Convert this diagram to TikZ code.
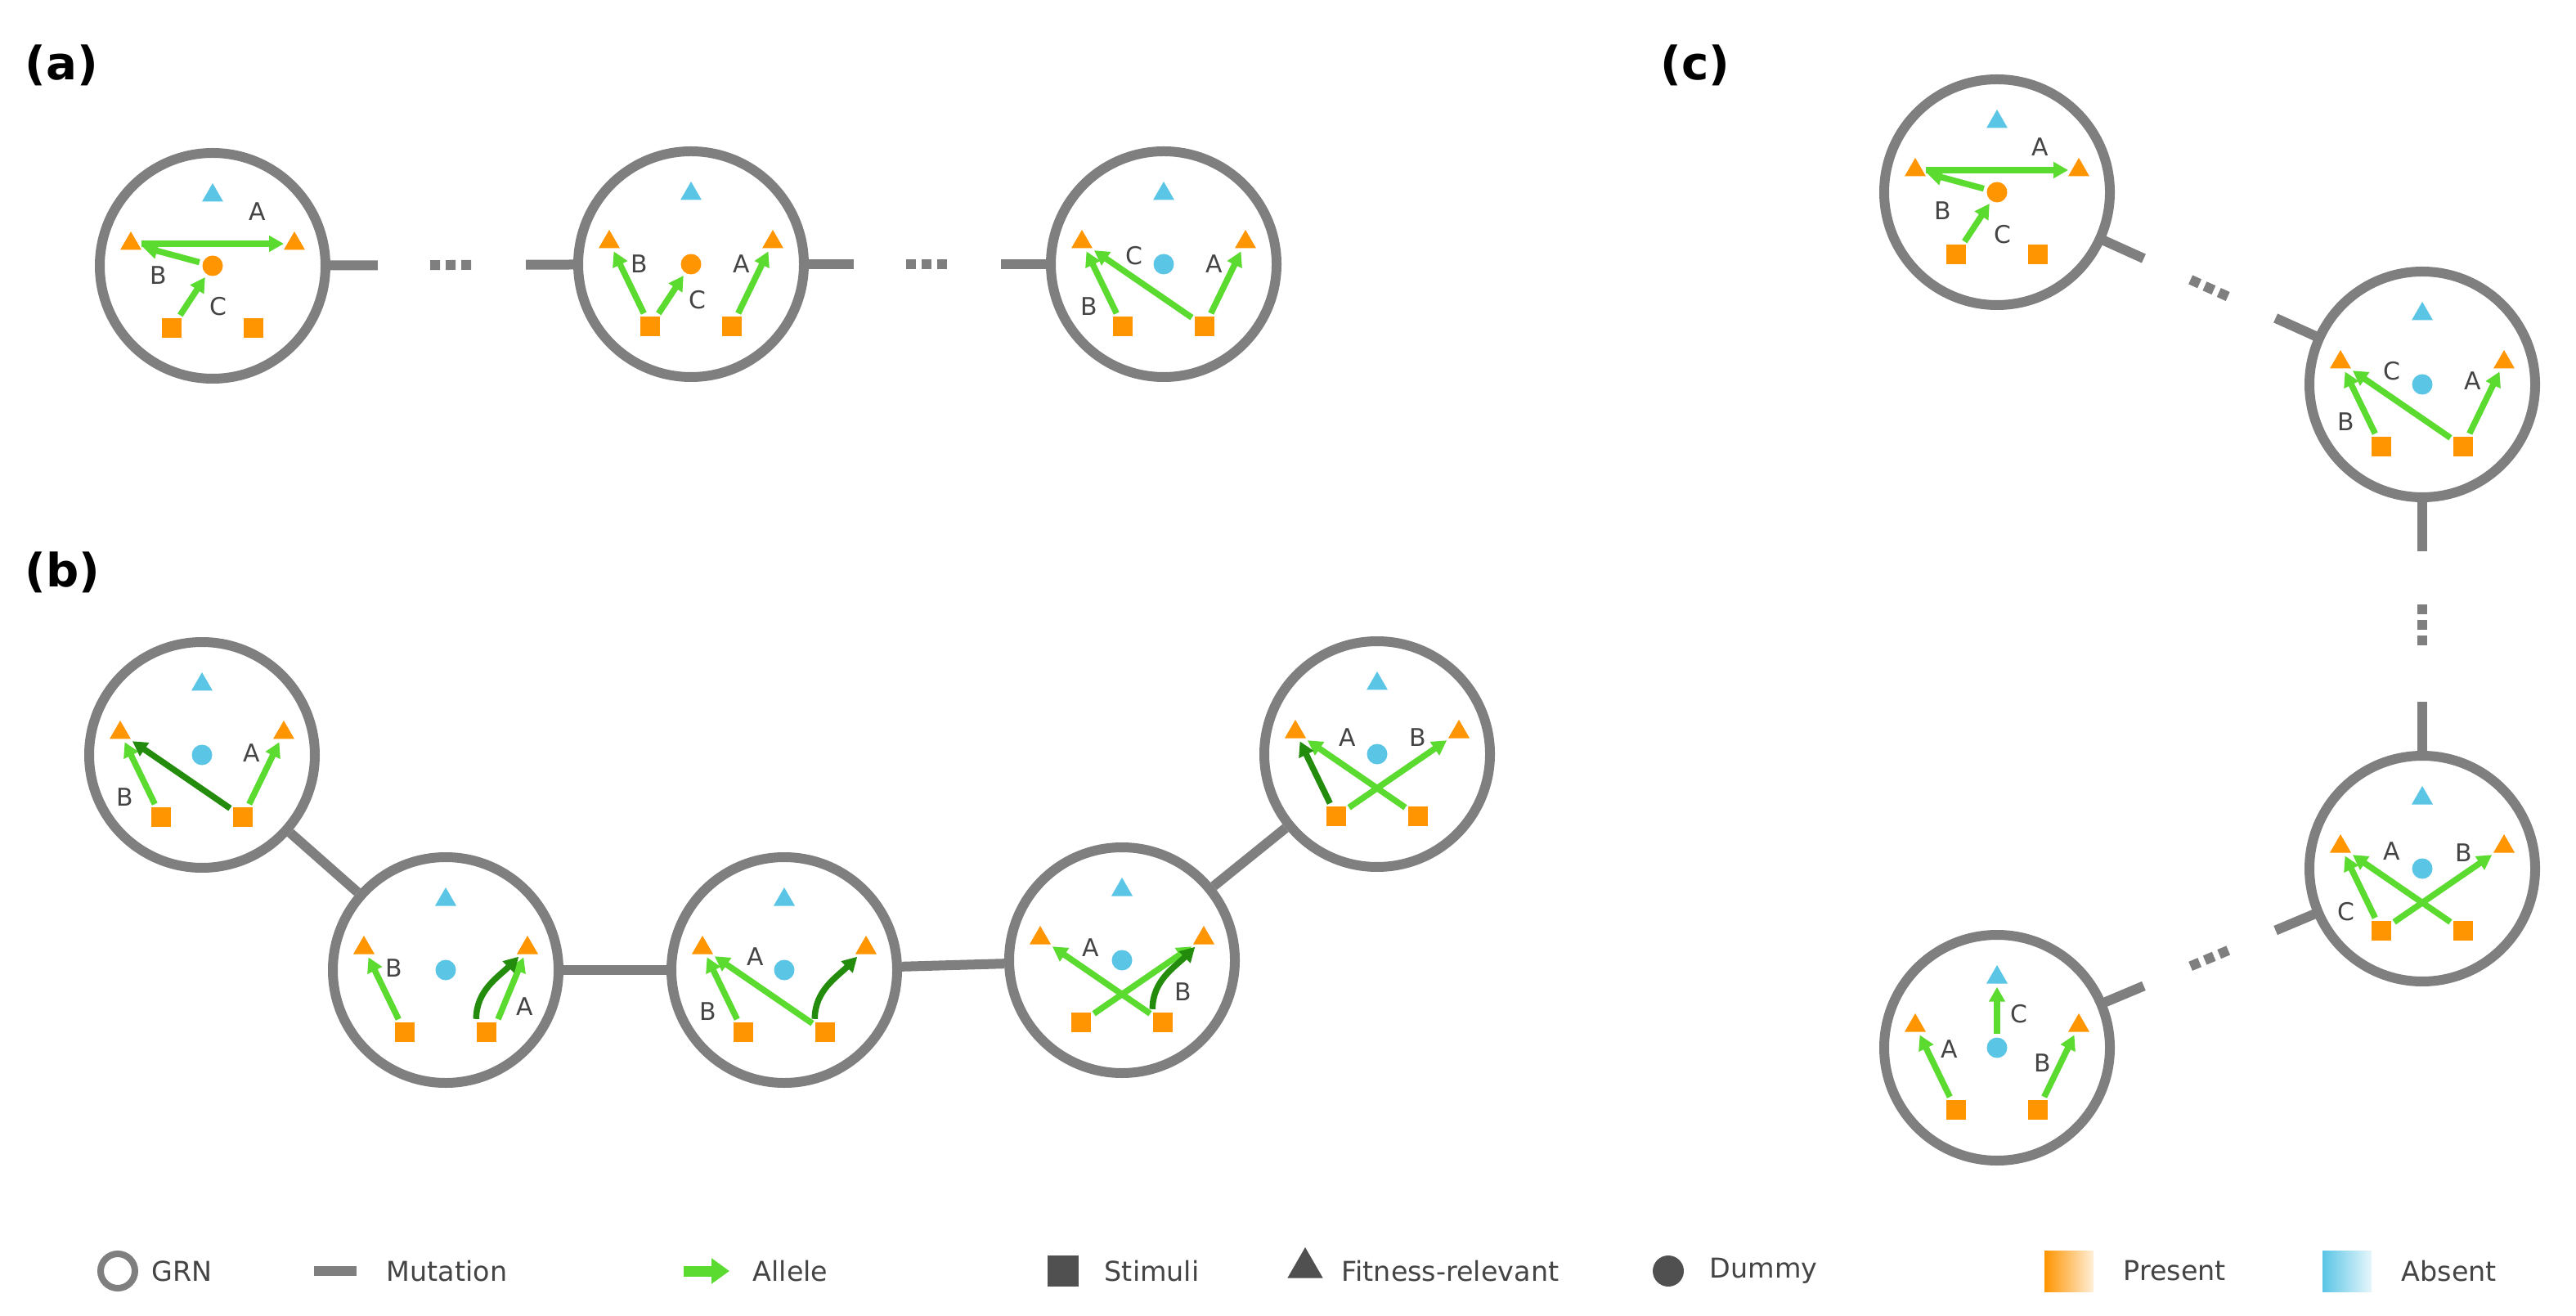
\documentclass[tikz,border=0pt]{standalone}
\usepackage{fontspec}
\setmainfont{DejaVu Sans}
\usetikzlibrary{positioning,calc,arrows.meta,shapes.geometric,backgrounds}

\definecolor{present}{HTML}{FF9500}
\definecolor{absent}{HTML}{5BC5E6}
\definecolor{allele}{HTML}{5BDA30}
\definecolor{alleledark}{HTML}{238C0C}
\definecolor{ringgray}{HTML}{7F7F7F}
\definecolor{labelgray}{HTML}{444444}
\definecolor{keygray}{HTML}{505050}

\tikzset{
	grn/.style={circle, draw=ringgray, line width=0.12cm, fill=white, minimum size=2.76cm, inner sep=0},
	fitrel/.style={regular polygon, regular polygon sides=3, minimum size=0.3cm, inner sep=0},
	stim/.style={rectangle, minimum size=0.24cm, inner sep=0},
	dummy/.style={circle, minimum size=0.25cm, inner sep=0},
	allele/.style={draw=allele, line width=0.075cm, -{Triangle[length=0.18cm,width=0.19cm]}, shorten <=1pt, shorten >=1pt},
	newallele/.style={allele, draw=alleledark},
	lbl/.style={text=labelgray, font=\fontsize{8.5}{9}\selectfont, inner sep=0},
	key/.style={text=labelgray, font=\fontsize{9.5}{10}\selectfont, anchor=west, inner sep=0},
	mut/.style={draw=ringgray, line width=0.12cm},
	panel/.style={font=\fontsize{16}{18}\selectfont\bfseries, anchor=west, inner sep=0},
}

% one network: ring, three fitness nodes, dummy, two stimuli
\newcommand\grn[3]{%
	\node[grn] (#1) at #2 {};
	\node[fitrel, fill=absent] (#1-t) at ($(#1)+(0,0.86)$) {};
	\node[fitrel, fill=present] (#1-l) at ($(#1)+(-1,0.27)$) {};
	\node[fitrel, fill=present] (#1-r) at ($(#1)+(1,0.27)$) {};
	\node[dummy, fill=#3] (#1-d) at (#1) {};
	\node[stim, fill=present] (#1-s1) at ($(#1)+(-0.5,-0.76)$) {};
	\node[stim, fill=present] (#1-s2) at ($(#1)+(0.5,-0.76)$) {};
}
% mutation link with skipped steps
\newcommand\farlink[2]{%
	\draw[mut] ($(#1)!0.24!(#2)$) -- ($(#1)!0.345!(#2)$);
	\draw[mut, dash pattern=on 0.12cm off 0.07cm] ($(#1)!0.455!(#2)$) -- ($(#1)!0.545!(#2)$);
	\draw[mut] ($(#1)!0.655!(#2)$) -- ($(#1)!0.76!(#2)$);
}

\begin{document}
\begin{tikzpicture}
\useasboundingbox (0,0) rectangle (31.5,-16.09);

\node[panel] (pa) at (0.3,-0.8) {(a)};
\node[panel] (pb) at (0.3,-7.0) {(b)};
\node[panel] (pc) at (20.3,-0.8) {(c)};

% (a)
\grn{a1}{(2.6,-3.25)}{present}
\draw[allele] (a1-l) -- (a1-r);
\draw[allele] (a1-d) -- (a1-l);
\draw[allele] (a1-s1) -- (a1-d);
\node[lbl] (a1-A) at ($(a1)+(0.55,0.66)$) {A};
\node[lbl] (a1-B) at ($(a1)+(-0.66,-0.12)$) {B};
\node[lbl] (a1-C) at ($(a1)+(0.07,-0.5)$) {C};

\grn{a2}{(8.45,-3.23)}{present}
\draw[allele] (a2-s1) -- (a2-l);
\draw[allele] (a2-s1) -- (a2-d);
\draw[allele] (a2-s2) -- (a2-r);
\node[lbl] (a2-A) at ($(a2)+(0.62,0)$) {A};
\node[lbl] (a2-B) at ($(a2)+(-0.63,0)$) {B};
\node[lbl] (a2-C) at ($(a2)+(0.08,-0.44)$) {C};

\grn{a3}{(14.23,-3.23)}{absent}
\draw[allele] (a3-s1) -- (a3-l);
\draw[allele] (a3-s2) -- (a3-l);
\draw[allele] (a3-s2) -- (a3-r);
\node[lbl] (a3-A) at ($(a3)+(0.62,0)$) {A};
\node[lbl] (a3-B) at ($(a3)+(-0.91,-0.52)$) {B};
\node[lbl] (a3-C) at ($(a3)+(-0.36,0.1)$) {C};

% (b)
\grn{b1}{(2.47,-9.23)}{absent}
\draw[allele] (b1-s1) -- (b1-l);
\draw[newallele] (b1-s2) -- (b1-l);
\draw[allele] (b1-s2) -- (b1-r);
\node[lbl] (b1-A) at ($(b1)+(0.61,0.02)$) {A};
\node[lbl] (b1-B) at ($(b1)+(-0.94,-0.52)$) {B};

\grn{b2}{(5.45,-11.86)}{absent}
\draw[allele] (b2-s1) -- (b2-l);
\draw[allele] (b2-s2.north east) -- (b2-r);
\draw[newallele] (b2-s2.north west) to[out=90,in=225] (b2-r);
\node[lbl] (b2-A) at ($(b2)+(0.97,-0.45)$) {A};
\node[lbl] (b2-B) at ($(b2)+(-0.63,0.02)$) {B};

\grn{b3}{(9.59,-11.86)}{absent}
\draw[allele] (b3-s1) -- (b3-l);
\draw[allele] (b3-s2) -- (b3-l);
\draw[newallele] (b3-s2.north west) to[out=90,in=225] (b3-r);
\node[lbl] (b3-A) at ($(b3)+(-0.35,0.16)$) {A};
\node[lbl] (b3-B) at ($(b3)+(-0.93,-0.51)$) {B};

\grn{b4}{(13.72,-11.74)}{absent}
\draw[allele] (b4-s2) -- (b4-l);
\draw[allele] (b4-s1) -- (b4-r);
\draw[newallele] (b4-s2.north west) to[out=90,in=225] (b4-r);
\node[lbl] (b4-A) at ($(b4)+(-0.38,0.15)$) {A};
\node[lbl] (b4-B) at ($(b4)+(0.75,-0.39)$) {B};

\grn{b5}{(16.84,-9.22)}{absent}
\draw[allele] (b5-s2) -- (b5-l);
\draw[allele] (b5-s1) -- (b5-r);
\draw[newallele] (b5-s1) -- (b5-l);
\node[lbl] (b5-A) at ($(b5)+(-0.36,0.2)$) {A};
\node[lbl] (b5-B) at ($(b5)+(0.5,0.2)$) {B};

% (c)
\grn{c1}{(24.42,-2.35)}{present}
\draw[allele] (c1-l) -- (c1-r);
\draw[allele] (c1-d) -- (c1-l);
\draw[allele] (c1-s1) -- (c1-d);
\node[lbl] (c1-A) at ($(c1)+(0.53,0.55)$) {A};
\node[lbl] (c1-B) at ($(c1)+(-0.66,-0.23)$) {B};
\node[lbl] (c1-C) at ($(c1)+(0.07,-0.52)$) {C};

\grn{c2}{(29.62,-4.7)}{absent}
\draw[allele] (c2-s1) -- (c2-l);
\draw[allele] (c2-s2) -- (c2-l);
\draw[allele] (c2-s2) -- (c2-r);
\node[lbl] (c2-A) at ($(c2)+(0.62,0.04)$) {A};
\node[lbl] (c2-B) at ($(c2)+(-0.93,-0.46)$) {B};
\node[lbl] (c2-C) at ($(c2)+(-0.37,0.16)$) {C};

\grn{c3}{(29.62,-10.62)}{absent}
\draw[allele] (c3-s1) -- (c3-l);
\draw[allele] (c3-s2) -- (c3-l);
\draw[allele] (c3-s1) -- (c3-r);
\node[lbl] (c3-A) at ($(c3)+(-0.37,0.21)$) {A};
\node[lbl] (c3-B) at ($(c3)+(0.51,0.19)$) {B};
\node[lbl] (c3-C) at ($(c3)+(-0.93,-0.53)$) {C};

\grn{c4}{(24.42,-12.81)}{absent}
\draw[allele] (c4-s1) -- (c4-l);
\draw[allele] (c4-d) -- (c4-t);
\draw[allele] (c4-s2) -- (c4-r);
\node[lbl] (c4-A) at ($(c4)+(-0.58,-0.02)$) {A};
\node[lbl] (c4-B) at ($(c4)+(0.56,-0.19)$) {B};
\node[lbl] (c4-C) at ($(c4)+(0.27,0.41)$) {C};

% mutations
\begin{scope}[on background layer]
	\farlink{a1}{a2}
	\farlink{a2}{a3}
	\draw[mut] (b1) -- (b2);
	\draw[mut] (b2) -- (b3);
	\draw[mut] (b3) -- (b4);
	\draw[mut] (b4) -- (b5);
	\farlink{c1}{c2}
	\farlink{c2}{c3}
	\farlink{c4}{c3}
\end{scope}

% legend
\node[circle, draw=ringgray, line width=0.08cm, minimum size=0.42cm, inner sep=0] (kgrn) at (1.44,-15.54) {};
\node[key] (kgrn-t) at (1.85,-15.54) {GRN};
\coordinate (kmut-a) at (3.84,-15.54);
\coordinate (kmut-b) at (4.36,-15.54);
\draw[mut] (kmut-a) -- (kmut-b);
\node[key] (kmut-t) at (4.72,-15.54) {Mutation};
\coordinate (kall-a) at (8.36,-15.54);
\coordinate (kall-b) at (8.92,-15.54);
\draw[allele, line width=0.13cm, -{Triangle[length=0.22cm,width=0.3cm]}, shorten <=0pt, shorten >=0pt] (kall-a) -- (kall-b);
\node[key] (kall-t) at (9.2,-15.54) {Allele};
\node[stim, fill=keygray, minimum size=0.38cm] (kstim) at (13.0,-15.54) {};
\node[key] (kstim-t) at (13.5,-15.54) {Stimuli};
\node[fitrel, fill=keygray, minimum size=0.5cm] (kfit) at (15.96,-15.5) {};
\node[key] (kfit-t) at (16.4,-15.54) {Fitness-relevant};
\node[dummy, fill=keygray, minimum size=0.38cm] (kdum) at (20.4,-15.54) {};
\node[key] (kdum-t) at (20.9,-15.54) {Dummy};
\shade[left color=present, middle color=present, right color=present!15] (25.0,-15.29) rectangle (25.6,-15.79);
\node[key] (kpre-t) at (25.96,-15.54) {Present};
\shade[left color=absent, middle color=absent, right color=absent!15] (28.4,-15.29) rectangle (29.0,-15.79);
\node[key] (kabs-t) at (29.36,-15.54) {Absent};
\end{tikzpicture}
\end{document}
